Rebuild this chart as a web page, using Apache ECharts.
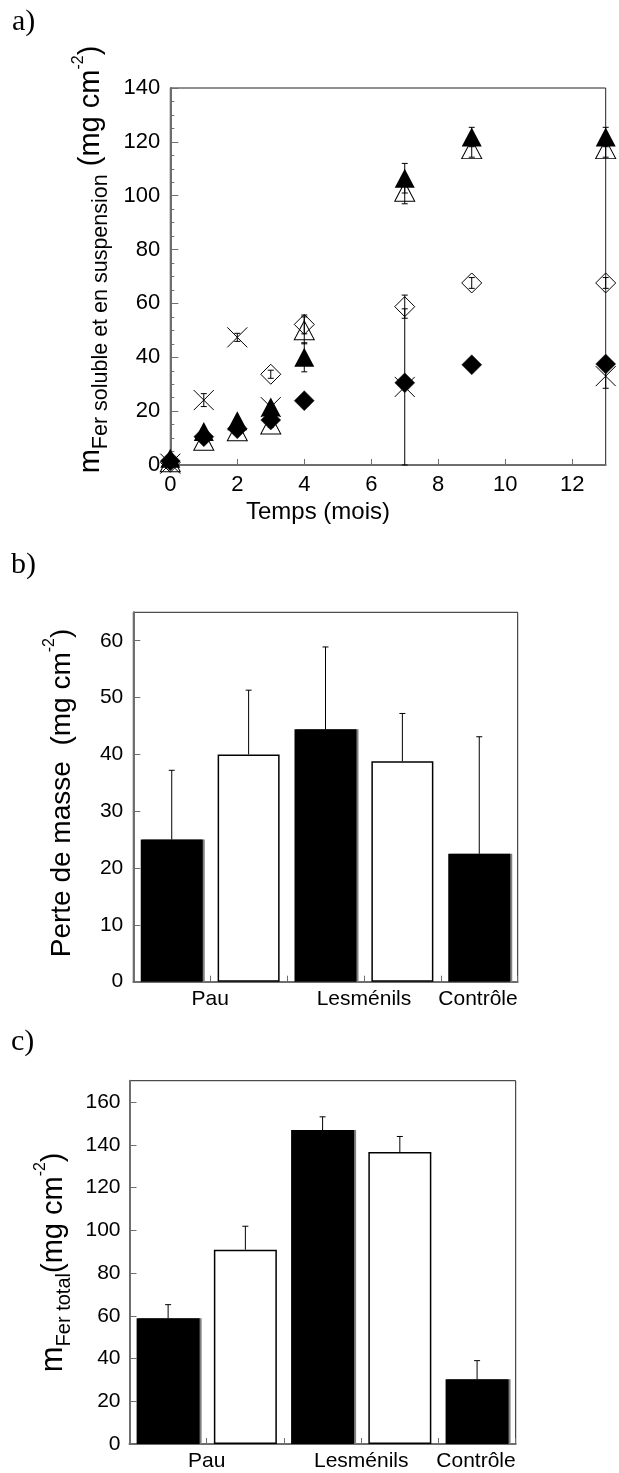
<!DOCTYPE html>
<html>
<head>
<meta charset="utf-8">
<script src="https://cdn.jsdelivr.net/npm/echarts@6/dist/echarts.min.js"></script>
<style>
html,body{margin:0;padding:0;background:#fff;}
#chart{width:619px;height:1473px;}
</style>
</head>
<body>
<div id="chart"></div>
<script>
// ---------- Panel a: dissolved + suspended iron vs time ----------
const monthsA = [0, 1, 2, 3, 4, 7, 9, 13];
const filledTriangle = [2.5, 12.4, 16.4, 21.5, 40, 106.5, 121.8, 121.8];
const filledTriangleErr = [0, 1, 1, 1, 5.4, 5.5, 3.6, 3.6];
const openTriangle = [1, 9, 12.5, 15, 50, 101.5, 117.3, 117.3];
const openTriangleErr = [0, 1, 1, 1, 5, 4.5, 3, 3];
const filledDiamond = [1.5, 10.5, 13.5, 16.7, 23.9, 30.5, 37.2, 37.5];
const monthsOpenDiamond = [0, 3, 4, 7, 9, 13];
const openDiamond = [1, 33.7, 52.2, 58.8, 67.6, 67.6];
const openDiamondErr = [0, 1.5, 3.5, 4.3, 2, 2];
const monthsCross = [0, 1, 2, 3, 7, 13];
const crossVals = [0.5, 24.1, 47.4, 21.5, 29, 33];
const crossErr = [0, 2.4, 1.5, 1, 29, 4.5];

// ---------- Panel b: mass loss ----------
const tickLabelsBC = ['', 'Pau', '', 'Lesménils', '', 'Contrôle'];
const barFill = ['black', 'white', 'black', 'white', 'black'];
const massLoss = [25, 40, 44.4, 38.8, 22.5];
const massLossErr = [12.2, 11.3, 14.5, 8.4, 20.6];

// ---------- Panel c: total iron ----------
const ironTotal = [58.9, 90.9, 146.9, 136.6, 30.3];
const ironTotalErr = [6.3, 11, 6.2, 7.3, 8.7];

const SANS = 'Liberation Sans, Arial, sans-serif';
const SERIF = 'Liberation Serif, Times New Roman, serif';
const AXIS_GRAY = '#6e6e6e';

function pairs(xs, ys, es) { return xs.map((x, i) => es ? [x, ys[i], es[i]] : [x, ys[i]]); }

function errBar(capHalf, upOnly) {
  return function (params, api) {
    const x = api.value(0), y = api.value(1), e = api.value(2);
    if (!e) return null;
    const top = api.coord([x, y + e]);
    const bot = upOnly ? api.coord([x, y]) : api.coord([x, y - e]);
    const st = { stroke: '#000', lineWidth: 1 };
    const ch = [
      { type: 'line', shape: { x1: top[0], y1: top[1], x2: bot[0], y2: bot[1] }, style: st },
      { type: 'line', shape: { x1: top[0] - capHalf, y1: top[1], x2: top[0] + capHalf, y2: top[1] }, style: st }
    ];
    if (!upOnly) ch.push({ type: 'line', shape: { x1: bot[0] - capHalf, y1: bot[1], x2: bot[0] + capHalf, y2: bot[1] }, style: st });
    return { type: 'group', children: ch };
  };
}

function richName(mSize, subSize, bigSize, supSize) {
  return {
    m: { fontFamily: SANS, fontSize: mSize, lineHeight: 42, verticalAlign: 'middle', color: '#000' },
    sub: { fontFamily: SANS, fontSize: subSize, lineHeight: subSize, verticalAlign: 'bottom', color: '#000' },
    big: { fontFamily: SANS, fontSize: bigSize, lineHeight: 42, verticalAlign: 'middle', color: '#000' },
    sup: { fontFamily: SANS, fontSize: supSize, lineHeight: supSize, verticalAlign: 'top', color: '#000' }
  };
}

const gridCommon = { show: true, borderColor: '#222', borderWidth: 1, backgroundColor: 'transparent', containLabel: false, outerBoundsMode: 'none' };
const letterStyle = { fontFamily: SERIF, fontSize: 30, fontWeight: 'normal', color: '#000' };

const option = {
  animation: false,
  backgroundColor: '#fff',
  title: [
    { text: 'a)', left: 12, top: 7, padding: 0, textStyle: letterStyle },
    { text: 'b)', left: 11, top: 550, padding: 0, textStyle: letterStyle },
    { text: 'c)', left: 11, top: 1027, padding: 0, textStyle: letterStyle }
  ],
  grid: [
    Object.assign({ left: 170.3, top: 88, width: 435.4, height: 377 }, gridCommon),
    Object.assign({ left: 133.3, top: 612.3, width: 384.4, height: 369.4 }, gridCommon),
    Object.assign({ left: 129.5, top: 1080.7, width: 386.2, height: 363.3 }, gridCommon)
  ],
  xAxis: [
    {
      gridIndex: 0, type: 'value', min: 0, max: 13, interval: 2,
      axisLine: { show: true, onZero: false, lineStyle: { color: AXIS_GRAY, width: 2 } },
      axisTick: { show: true, inside: true, length: 6, lineStyle: { color: AXIS_GRAY } },
      splitLine: { show: false },
      axisLabel: { fontFamily: SANS, fontSize: 22, color: '#000', margin: 9, showMaxLabel: false },
      name: 'Temps (mois)', nameLocation: 'middle', nameGap: 35,
      nameTextStyle: { fontFamily: SANS, fontSize: 24, color: '#000', padding: [0, 140, 0, 0] }
    },
    {
      gridIndex: 1, type: 'value', min: 0, max: 5, interval: 1,
      axisLine: { show: true, onZero: false, lineStyle: { color: AXIS_GRAY, width: 2 } },
      axisTick: { show: true, inside: true, length: 6, lineStyle: { color: AXIS_GRAY } },
      splitLine: { show: false },
      axisLabel: { fontFamily: SANS, fontSize: 21, color: '#000', margin: 7, alignMaxLabel: 'right', showMaxLabel: true,
        formatter: v => tickLabelsBC[Math.round(v)] || '' }
    },
    {
      gridIndex: 2, type: 'value', min: 0, max: 5, interval: 1,
      axisLine: { show: true, onZero: false, lineStyle: { color: AXIS_GRAY, width: 2 } },
      axisTick: { show: true, inside: true, length: 6, lineStyle: { color: AXIS_GRAY } },
      splitLine: { show: false },
      axisLabel: { fontFamily: SANS, fontSize: 21, color: '#000', margin: 7, alignMaxLabel: 'right', showMaxLabel: true,
        formatter: v => tickLabelsBC[Math.round(v)] || '' }
    }
  ],
  yAxis: [
    {
      gridIndex: 0, type: 'value', min: 0, max: 140, interval: 20,
      axisLine: { show: true, onZero: false, lineStyle: { color: AXIS_GRAY, width: 2 } },
      axisTick: { show: true, inside: true, length: 8, lineStyle: { color: AXIS_GRAY } },
      minorTick: { show: true, splitNumber: 4, length: 4, lineStyle: { color: AXIS_GRAY } },
      splitLine: { show: false },
      axisLabel: { fontFamily: SANS, fontSize: 22, color: '#000', margin: 10 },
      name: '{m|m}{sub|Fer soluble et en suspension}{big| (mg cm}{sup|-2}{big|)}',
      nameLocation: 'middle', nameGap: 58, nameRotate: 90,
      nameTextStyle: { padding: [0, 0, 0, 34], rich: richName(29, 21.5, 29, 16) }
    },
    {
      gridIndex: 1, type: 'value', min: 0, max: 65, interval: 10,
      axisLine: { show: true, onZero: false, lineStyle: { color: AXIS_GRAY, width: 2 } },
      axisTick: { show: true, inside: true, length: 7, lineStyle: { color: AXIS_GRAY } },
      splitLine: { show: false },
      axisLabel: { fontFamily: SANS, fontSize: 21, color: '#000', margin: 10, showMaxLabel: false },
      name: '{big|Perte de masse  (mg cm}{sup|-2}{big|)}',
      nameLocation: 'middle', nameGap: 50, nameRotate: 90,
      nameTextStyle: { padding: [0, 0, 0, 8], rich: richName(28, 18, 28, 16) }
    },
    {
      gridIndex: 2, type: 'value', min: 0, max: 170, interval: 20,
      axisLine: { show: true, onZero: false, lineStyle: { color: AXIS_GRAY, width: 2 } },
      axisTick: { show: true, inside: true, length: 7, lineStyle: { color: AXIS_GRAY } },
      splitLine: { show: false },
      axisLabel: { fontFamily: SANS, fontSize: 21, color: '#000', margin: 9, showMaxLabel: false },
      name: '{m|m}{sub|Fer total}{big|(mg cm}{sup|-2}{big|)}',
      nameLocation: 'middle', nameGap: 46, nameRotate: 90,
      nameTextStyle: { rich: richName(31, 20, 29, 16) }
    }
  ],
  series: [
    // error bars panel a
    { type: 'custom', xAxisIndex: 0, yAxisIndex: 0, z: 1, clip: false, renderItem: errBar(3, false), data: pairs(monthsA, openTriangle, openTriangleErr) },
    { type: 'custom', xAxisIndex: 0, yAxisIndex: 0, z: 1, clip: false, renderItem: errBar(3, false), data: pairs(monthsOpenDiamond, openDiamond, openDiamondErr) },
    { type: 'custom', xAxisIndex: 0, yAxisIndex: 0, z: 1, clip: false, renderItem: errBar(3, false), data: pairs(monthsCross, crossVals, crossErr) },
    { type: 'custom', xAxisIndex: 0, yAxisIndex: 0, z: 1, clip: false, renderItem: errBar(3, false), data: pairs(monthsA, filledTriangle, filledTriangleErr) },
    // markers panel a
    { type: 'scatter', xAxisIndex: 0, yAxisIndex: 0, z: 2, clip: false, symbol: 'path://M0 0L10 10M10 0L0 10', symbolSize: 20,
      itemStyle: { color: 'none', borderColor: '#000', borderWidth: 1, opacity: 1 }, data: pairs(monthsCross, crossVals) },
    { type: 'scatter', xAxisIndex: 0, yAxisIndex: 0, z: 3, clip: false, symbol: 'triangle', symbolSize: [20, 19],
      itemStyle: { color: 'rgba(255,255,255,0)', borderColor: '#000', borderWidth: 1, opacity: 1 }, data: pairs(monthsA, openTriangle) },
    { type: 'scatter', xAxisIndex: 0, yAxisIndex: 0, z: 3, clip: false, symbol: 'diamond', symbolSize: 20,
      itemStyle: { color: 'rgba(255,255,255,0)', borderColor: '#000', borderWidth: 1, opacity: 1 }, data: pairs(monthsOpenDiamond, openDiamond) },
    { type: 'scatter', xAxisIndex: 0, yAxisIndex: 0, z: 4, clip: false, symbol: 'diamond', symbolSize: 20,
      itemStyle: { color: '#000', borderColor: '#222', borderWidth: 0.5, opacity: 1 }, data: pairs(monthsA, filledDiamond) },
    { type: 'scatter', xAxisIndex: 0, yAxisIndex: 0, z: 5, clip: false, symbol: 'triangle', symbolSize: [20, 19],
      itemStyle: { color: '#000', opacity: 1 }, data: pairs(monthsA, filledTriangle) },

    // panel b bars
    { type: 'bar', xAxisIndex: 1, yAxisIndex: 1, barWidth: 62, z: 2,
      data: massLoss.map((v, i) => ({ value: [i + 0.5, v], itemStyle: barFill[i] === 'black'
        ? { color: '#000', shadowColor: '#808080', shadowOffsetX: 2, shadowBlur: 0 }
        : { color: '#fff', borderColor: '#000', borderWidth: 1.5 } })) },
    { type: 'custom', xAxisIndex: 1, yAxisIndex: 1, z: 3, clip: false, renderItem: errBar(3, true),
      data: massLoss.map((v, i) => [i + 0.5, v, massLossErr[i]]) },

    // panel c bars
    { type: 'bar', xAxisIndex: 2, yAxisIndex: 2, barWidth: 63, z: 2,
      data: ironTotal.map((v, i) => ({ value: [i + 0.5, v], itemStyle: barFill[i] === 'black'
        ? { color: '#000', shadowColor: '#808080', shadowOffsetX: 2, shadowBlur: 0 }
        : { color: '#fff', borderColor: '#000', borderWidth: 1.5 } })) },
    { type: 'custom', xAxisIndex: 2, yAxisIndex: 2, z: 3, clip: false, renderItem: errBar(3, true),
      data: ironTotal.map((v, i) => [i + 0.5, v, ironTotalErr[i]]) }
  ]
};

const chart = echarts.init(document.getElementById('chart'), null, { renderer: 'canvas' });
chart.setOption(option);
</script>
</body>
</html>
